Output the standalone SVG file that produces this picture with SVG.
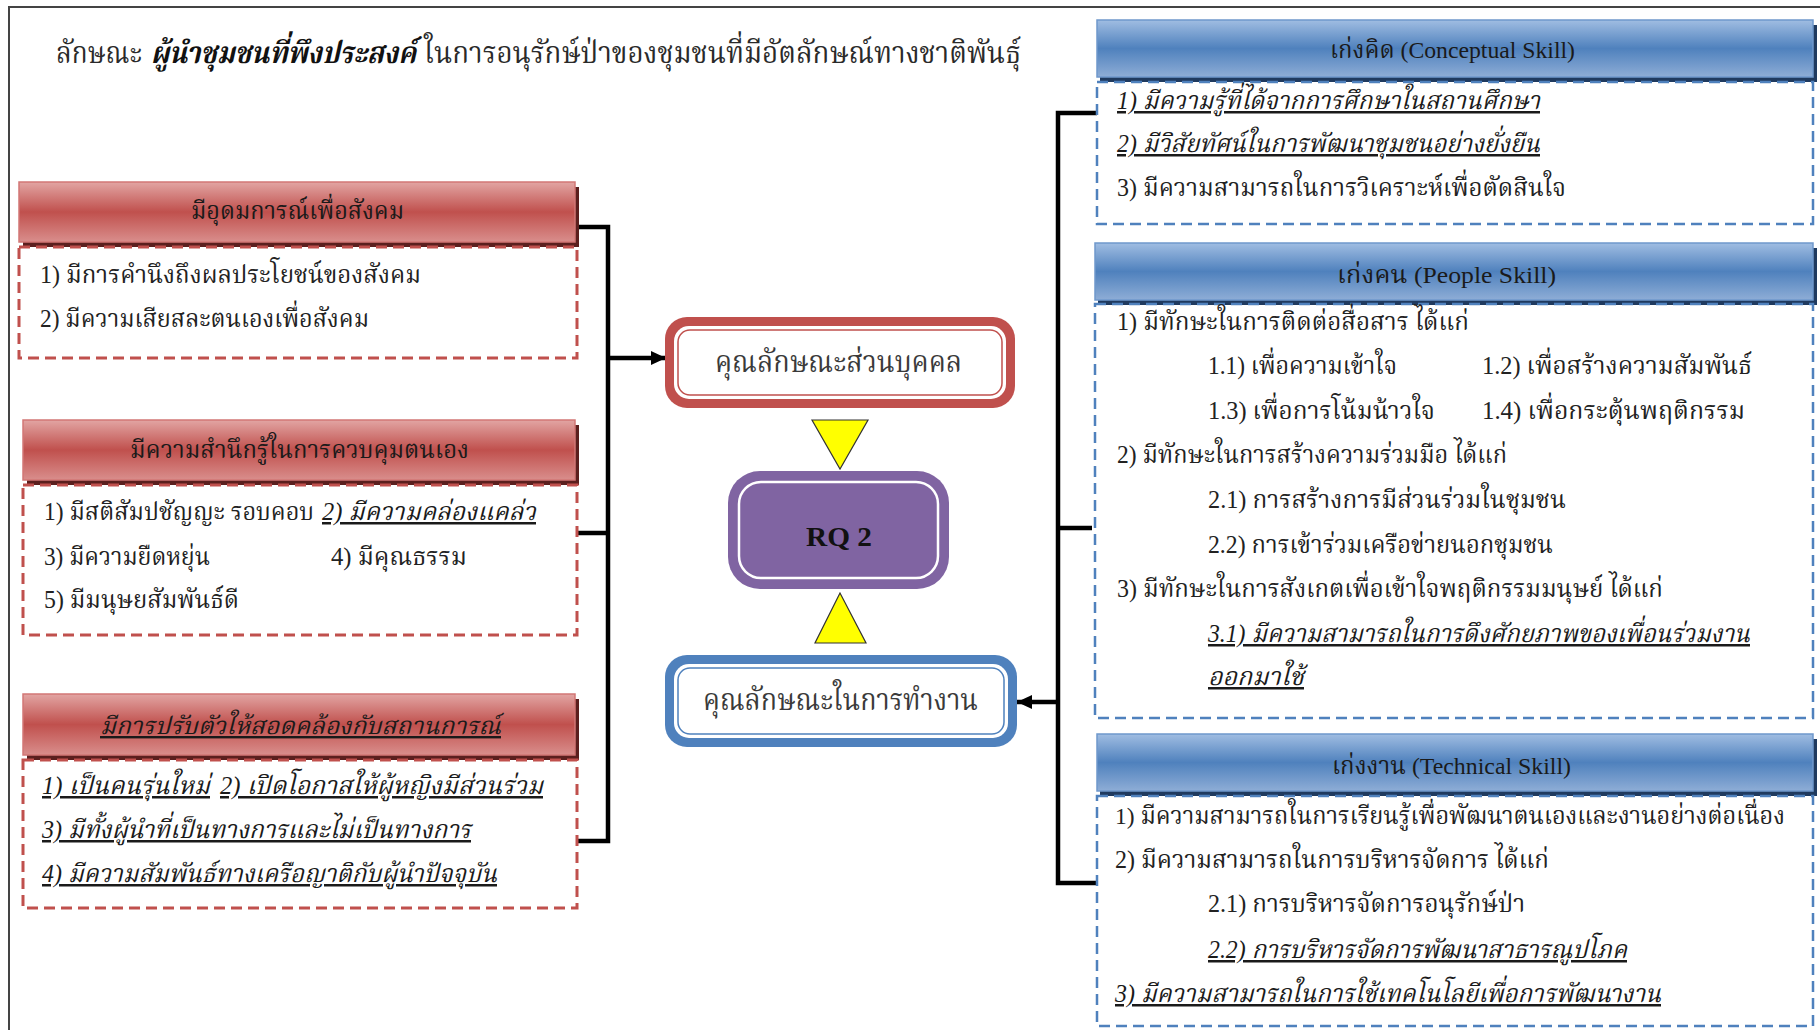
<svg xmlns="http://www.w3.org/2000/svg" width="1820" height="1030" viewBox="0 0 1820 1030">
<defs>
<linearGradient id="redG" x1="0" y1="0" x2="0" y2="1">
<stop offset="0" stop-color="#E2A5A3"/><stop offset="0.5" stop-color="#C0504D"/><stop offset="1" stop-color="#D98E8C"/>
</linearGradient>
<linearGradient id="blueG" x1="0" y1="0" x2="0" y2="1">
<stop offset="0" stop-color="#A0BDE2"/><stop offset="0.5" stop-color="#4F81BD"/><stop offset="1" stop-color="#8EADD6"/>
</linearGradient>
<marker id="ah" markerUnits="userSpaceOnUse" markerWidth="16" markerHeight="16" refX="15" refY="8" orient="auto">
<path d="M0,1 L15,8 L0,15 Z" fill="#000"/>
</marker>
<style>
.t{font-family:"Liberation Serif","Noto Serif Thai","Noto Sans Thai","Noto Sans",serif;font-size:25px;fill:#222}
.h{font-size:24px;fill:#1a1a1a}
.ttl{font-size:30px;fill:#2a2a2a}
.bi{font-weight:bold;font-style:italic;fill:#111}
.iu{font-style:italic;text-decoration:underline;fill:#1a1a1a}
.c{font-size:30px;fill:#3a3a3a}
.rq{font-size:28px;font-weight:bold;fill:#111}
.rsh{fill:#5B1F1E}
.rhd{fill:url(#redG);stroke:#D27775;stroke-width:1.5}
.rbd{fill:none;stroke:#C0504D;stroke-width:3;stroke-dasharray:11 6}
.bsh{fill:#1F3A5F}
.bhd{fill:url(#blueG);stroke:#6F98CC;stroke-width:1.5}
.bbd{fill:none;stroke:#4F81BD;stroke-width:2.5;stroke-dasharray:11 6}
.ln{fill:none;stroke:#000;stroke-width:4.5}
.tri{fill:#FFFF00;stroke:#333;stroke-width:1.2}
</style>
</defs>
<rect width="1820" height="1030" fill="#fff"/>
<path d="M9,1030 V7 H1820" fill="none" stroke="#444" stroke-width="2"/>

<g id="title">
<text class="t ttl" x="56" y="63" textLength="86" lengthAdjust="spacingAndGlyphs">ลักษณะ</text>
<text class="t ttl bi" x="151" y="63" textLength="265" lengthAdjust="spacingAndGlyphs">ผู้นำชุมชนที่พึงประสงค์</text>
<text class="t ttl" x="424" y="63" textLength="597" lengthAdjust="spacingAndGlyphs">ในการอนุรักษ์ป่าของชุมชนที่มีอัตลักษณ์ทางชาติพันธุ์</text>
</g>

<g id="connectors">
<path class="ln" d="M578,227 H608 V841 H578"/>
<path class="ln" d="M578,533 H608"/>
<path class="ln" d="M608,358 H666" marker-end="url(#ah)"/>
<path class="ln" d="M1097,113 H1058 V883 H1097"/>
<path class="ln" d="M1092,528 H1058"/>
<path class="ln" d="M1058,702 H1017" marker-end="url(#ah)"/>
<polygon class="tri" points="812,420 868,420 840,469"/>
<polygon class="tri" points="840,593 815,643 866,643"/>
</g>

<g id="box-ideal">
<rect class="rsh" x="23" y="187" width="556" height="60"/>
<rect class="rhd" x="19" y="182" width="556" height="60"/>
<rect class="rbd" x="19" y="247" width="558" height="111"/>
<text class="t h" x="191" y="219" textLength="213" lengthAdjust="spacingAndGlyphs">มีอุดมการณ์เพื่อสังคม</text>
<text class="t" x="40" y="283" textLength="381" lengthAdjust="spacingAndGlyphs">1) มีการคำนึงถึงผลประโยชน์ของสังคม</text>
<text class="t" x="40" y="327" textLength="329" lengthAdjust="spacingAndGlyphs">2) มีความเสียสละตนเองเพื่อสังคม</text>
</g>

<g id="box-selfcontrol">
<rect class="rsh" x="27" y="425" width="552" height="60"/>
<rect class="rhd" x="23" y="420" width="552" height="60"/>
<rect class="rbd" x="23" y="485" width="554" height="150"/>
<text class="t h" x="130" y="458" textLength="339" lengthAdjust="spacingAndGlyphs">มีความสำนึกรู้ในการควบคุมตนเอง</text>
<text class="t" x="44" y="520" textLength="270" lengthAdjust="spacingAndGlyphs">1) มีสติสัมปชัญญะ รอบคอบ</text>
<text class="t iu" x="322" y="520" textLength="214" lengthAdjust="spacingAndGlyphs">2) มีความคล่องแคล่ว</text>
<text class="t" x="44" y="565" textLength="166" lengthAdjust="spacingAndGlyphs">3) มีความยืดหยุ่น</text>
<text class="t" x="331" y="565" textLength="136" lengthAdjust="spacingAndGlyphs">4) มีคุณธรรม</text>
<text class="t" x="44" y="608" textLength="195" lengthAdjust="spacingAndGlyphs">5) มีมนุษยสัมพันธ์ดี</text>
</g>

<g id="box-adapt">
<rect class="rsh" x="27" y="699" width="552" height="61"/>
<rect class="rhd" x="23" y="694" width="552" height="61"/>
<rect class="rbd" x="23" y="760" width="554" height="148"/>
<text class="t h iu" x="100" y="734" textLength="401" lengthAdjust="spacingAndGlyphs">มีการปรับตัวให้สอดคล้องกับสถานการณ์</text>
<text class="t iu" x="42" y="794" textLength="168" lengthAdjust="spacingAndGlyphs">1) เป็นคนรุ่นใหม่</text>
<text class="t iu" x="220" y="794" textLength="323" lengthAdjust="spacingAndGlyphs">2) เปิดโอกาสให้ผู้หญิงมีส่วนร่วม</text>
<text class="t iu" x="42" y="838" textLength="429" lengthAdjust="spacingAndGlyphs">3) มีทั้งผู้นำที่เป็นทางการและไม่เป็นทางการ</text>
<text class="t iu" x="42" y="882" textLength="455" lengthAdjust="spacingAndGlyphs">4) มีความสัมพันธ์ทางเครือญาติกับผู้นำปัจจุบัน</text>
</g>

<g id="node-personal">
<rect x="665" y="317" width="350" height="91" rx="22" fill="#C0504D"/>
<rect x="674" y="326" width="332" height="73" rx="15" fill="#fff"/>
<rect x="678" y="330" width="324" height="65" rx="12" fill="#fff" stroke="#C0504D" stroke-width="1.5"/>
<text class="t c" x="715" y="372" textLength="247" lengthAdjust="spacingAndGlyphs">คุณลักษณะส่วนบุคคล</text>
</g>

<g id="node-rq2">
<rect x="728" y="471" width="221" height="118" rx="32" fill="#8064A2"/>
<rect x="739" y="482" width="199" height="96" rx="22" fill="#8064A2" stroke="#fff" stroke-width="2.5"/>
<text class="t rq" x="806" y="546" textLength="66" lengthAdjust="spacingAndGlyphs">RQ 2</text>
</g>

<g id="node-work">
<rect x="665" y="655" width="352" height="92" rx="22" fill="#4F81BD"/>
<rect x="674" y="664" width="334" height="74" rx="15" fill="#fff"/>
<rect x="678" y="668" width="326" height="66" rx="12" fill="#fff" stroke="#4F81BD" stroke-width="1.5"/>
<text class="t c" x="703" y="710" textLength="275" lengthAdjust="spacingAndGlyphs">คุณลักษณะในการทำงาน</text>
</g>

<g id="box-conceptual">
<rect class="bsh" x="1100" y="25" width="717" height="57"/>
<rect class="bhd" x="1097" y="20" width="716" height="57"/>
<rect class="bbd" x="1097" y="82" width="716" height="142"/>
<text class="t h" x="1330" y="58" textLength="245" lengthAdjust="spacingAndGlyphs">เก่งคิด (Conceptual Skill)</text>
<text class="t iu" x="1117" y="109" textLength="423" lengthAdjust="spacingAndGlyphs">1) มีความรู้ที่ได้จากการศึกษาในสถานศึกษา</text>
<text class="t iu" x="1117" y="152" textLength="423" lengthAdjust="spacingAndGlyphs">2) มีวิสัยทัศน์ในการพัฒนาชุมชนอย่างยั่งยืน</text>
<text class="t" x="1117" y="196" textLength="449" lengthAdjust="spacingAndGlyphs">3) มีความสามารถในการวิเคราะห์เพื่อตัดสินใจ</text>
</g>

<g id="box-people">
<rect class="bsh" x="1098" y="248" width="719" height="57"/>
<rect class="bhd" x="1095" y="243" width="718" height="57"/>
<rect class="bbd" x="1095" y="304" width="718" height="414"/>
<text class="t h" x="1337" y="283" textLength="219" lengthAdjust="spacingAndGlyphs">เก่งคน (People Skill)</text>
<text class="t" x="1117" y="330" textLength="352" lengthAdjust="spacingAndGlyphs">1) มีทักษะในการติดต่อสื่อสาร ได้แก่</text>
<text class="t" x="1208" y="374" textLength="189" lengthAdjust="spacingAndGlyphs">1.1) เพื่อความเข้าใจ</text>
<text class="t" x="1482" y="374" textLength="270" lengthAdjust="spacingAndGlyphs">1.2) เพื่อสร้างความสัมพันธ์</text>
<text class="t" x="1208" y="419" textLength="227" lengthAdjust="spacingAndGlyphs">1.3) เพื่อการโน้มน้าวใจ</text>
<text class="t" x="1482" y="419" textLength="263" lengthAdjust="spacingAndGlyphs">1.4) เพื่อกระตุ้นพฤติกรรม</text>
<text class="t" x="1117" y="463" textLength="390" lengthAdjust="spacingAndGlyphs">2) มีทักษะในการสร้างความร่วมมือ ได้แก่</text>
<text class="t" x="1208" y="508" textLength="358" lengthAdjust="spacingAndGlyphs">2.1) การสร้างการมีส่วนร่วมในชุมชน</text>
<text class="t" x="1208" y="553" textLength="345" lengthAdjust="spacingAndGlyphs">2.2) การเข้าร่วมเครือข่ายนอกชุมชน</text>
<text class="t" x="1117" y="597" textLength="546" lengthAdjust="spacingAndGlyphs">3) มีทักษะในการสังเกตเพื่อเข้าใจพฤติกรรมมนุษย์ ได้แก่</text>
<text class="t iu" x="1208" y="642" textLength="542" lengthAdjust="spacingAndGlyphs">3.1) มีความสามารถในการดึงศักยภาพของเพื่อนร่วมงาน</text>
<text class="t iu" x="1208" y="685" textLength="96" lengthAdjust="spacingAndGlyphs">ออกมาใช้</text>
</g>

<g id="box-technical">
<rect class="bsh" x="1100" y="739" width="717" height="57"/>
<rect class="bhd" x="1097" y="734" width="716" height="57"/>
<rect class="bbd" x="1097" y="796" width="716" height="230"/>
<text class="t h" x="1332" y="774" textLength="239" lengthAdjust="spacingAndGlyphs">เก่งงาน (Technical Skill)</text>
<text class="t" x="1115" y="824" textLength="670" lengthAdjust="spacingAndGlyphs" style="font-size:24px">1) มีความสามารถในการเรียนรู้เพื่อพัฒนาตนเองและงานอย่างต่อเนื่อง</text>
<text class="t" x="1115" y="868" textLength="434" lengthAdjust="spacingAndGlyphs">2) มีความสามารถในการบริหารจัดการ ได้แก่</text>
<text class="t" x="1208" y="912" textLength="317" lengthAdjust="spacingAndGlyphs">2.1) การบริหารจัดการอนุรักษ์ป่า</text>
<text class="t iu" x="1208" y="958" textLength="419" lengthAdjust="spacingAndGlyphs">2.2) การบริหารจัดการพัฒนาสาธารณูปโภค</text>
<text class="t iu" x="1115" y="1002" textLength="546" lengthAdjust="spacingAndGlyphs">3) มีความสามารถในการใช้เทคโนโลยีเพื่อการพัฒนางาน</text>
</g>
</svg>
